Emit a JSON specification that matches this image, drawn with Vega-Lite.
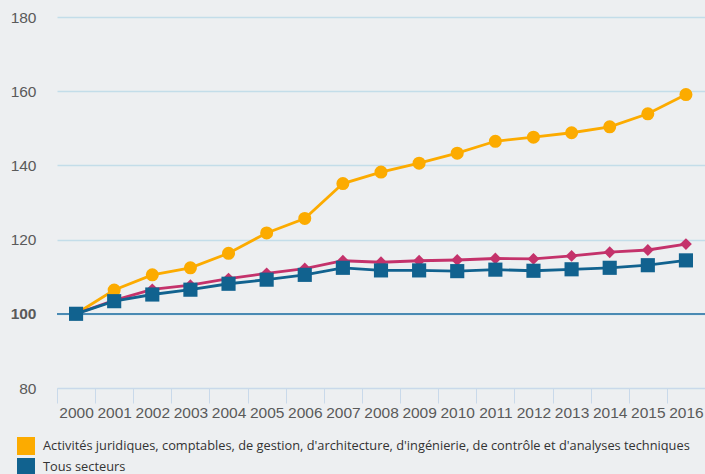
{
  "$schema": "https://vega.github.io/schema/vega-lite/v6.json",
  "width": 648,
  "height": 371,
  "autosize": {"type": "none"},
  "padding": {"left": 57, "top": 17, "right": 0, "bottom": 86},
  "background": "#edeff1",
  "config": {"view": {"stroke": null}},
  "data": {
    "values": [
      {"year": "2000", "serie": "Activités juridiques, comptables, de gestion, d'architecture, d'ingénierie, de contrôle et d'analyses techniques", "v": 100},
      {"year": "2001", "serie": "Activités juridiques, comptables, de gestion, d'architecture, d'ingénierie, de contrôle et d'analyses techniques", "v": 106.4},
      {"year": "2002", "serie": "Activités juridiques, comptables, de gestion, d'architecture, d'ingénierie, de contrôle et d'analyses techniques", "v": 110.5},
      {"year": "2003", "serie": "Activités juridiques, comptables, de gestion, d'architecture, d'ingénierie, de contrôle et d'analyses techniques", "v": 112.4},
      {"year": "2004", "serie": "Activités juridiques, comptables, de gestion, d'architecture, d'ingénierie, de contrôle et d'analyses techniques", "v": 116.3},
      {"year": "2005", "serie": "Activités juridiques, comptables, de gestion, d'architecture, d'ingénierie, de contrôle et d'analyses techniques", "v": 121.8},
      {"year": "2006", "serie": "Activités juridiques, comptables, de gestion, d'architecture, d'ingénierie, de contrôle et d'analyses techniques", "v": 125.7},
      {"year": "2007", "serie": "Activités juridiques, comptables, de gestion, d'architecture, d'ingénierie, de contrôle et d'analyses techniques", "v": 135.1},
      {"year": "2008", "serie": "Activités juridiques, comptables, de gestion, d'architecture, d'ingénierie, de contrôle et d'analyses techniques", "v": 138.2},
      {"year": "2009", "serie": "Activités juridiques, comptables, de gestion, d'architecture, d'ingénierie, de contrôle et d'analyses techniques", "v": 140.6},
      {"year": "2010", "serie": "Activités juridiques, comptables, de gestion, d'architecture, d'ingénierie, de contrôle et d'analyses techniques", "v": 143.3},
      {"year": "2011", "serie": "Activités juridiques, comptables, de gestion, d'architecture, d'ingénierie, de contrôle et d'analyses techniques", "v": 146.5},
      {"year": "2012", "serie": "Activités juridiques, comptables, de gestion, d'architecture, d'ingénierie, de contrôle et d'analyses techniques", "v": 147.6},
      {"year": "2013", "serie": "Activités juridiques, comptables, de gestion, d'architecture, d'ingénierie, de contrôle et d'analyses techniques", "v": 148.8},
      {"year": "2014", "serie": "Activités juridiques, comptables, de gestion, d'architecture, d'ingénierie, de contrôle et d'analyses techniques", "v": 150.4},
      {"year": "2015", "serie": "Activités juridiques, comptables, de gestion, d'architecture, d'ingénierie, de contrôle et d'analyses techniques", "v": 153.9},
      {"year": "2016", "serie": "Activités juridiques, comptables, de gestion, d'architecture, d'ingénierie, de contrôle et d'analyses techniques", "v": 159.1},
      {"year": "2000", "serie": "Services marchands", "v": 100},
      {"year": "2001", "serie": "Services marchands", "v": 103.6},
      {"year": "2002", "serie": "Services marchands", "v": 106.6},
      {"year": "2003", "serie": "Services marchands", "v": 107.7},
      {"year": "2004", "serie": "Services marchands", "v": 109.5},
      {"year": "2005", "serie": "Services marchands", "v": 110.9},
      {"year": "2006", "serie": "Services marchands", "v": 112.2},
      {"year": "2007", "serie": "Services marchands", "v": 114.3},
      {"year": "2008", "serie": "Services marchands", "v": 113.9},
      {"year": "2009", "serie": "Services marchands", "v": 114.3},
      {"year": "2010", "serie": "Services marchands", "v": 114.5},
      {"year": "2011", "serie": "Services marchands", "v": 114.9},
      {"year": "2012", "serie": "Services marchands", "v": 114.8},
      {"year": "2013", "serie": "Services marchands", "v": 115.6},
      {"year": "2014", "serie": "Services marchands", "v": 116.6},
      {"year": "2015", "serie": "Services marchands", "v": 117.2},
      {"year": "2016", "serie": "Services marchands", "v": 118.8},
      {"year": "2000", "serie": "Tous secteurs", "v": 100},
      {"year": "2001", "serie": "Tous secteurs", "v": 103.4},
      {"year": "2002", "serie": "Tous secteurs", "v": 105.2},
      {"year": "2003", "serie": "Tous secteurs", "v": 106.5},
      {"year": "2004", "serie": "Tous secteurs", "v": 108.1},
      {"year": "2005", "serie": "Tous secteurs", "v": 109.2},
      {"year": "2006", "serie": "Tous secteurs", "v": 110.5},
      {"year": "2007", "serie": "Tous secteurs", "v": 112.4},
      {"year": "2008", "serie": "Tous secteurs", "v": 111.7},
      {"year": "2009", "serie": "Tous secteurs", "v": 111.7},
      {"year": "2010", "serie": "Tous secteurs", "v": 111.5},
      {"year": "2011", "serie": "Tous secteurs", "v": 111.9},
      {"year": "2012", "serie": "Tous secteurs", "v": 111.6},
      {"year": "2013", "serie": "Tous secteurs", "v": 112.0},
      {"year": "2014", "serie": "Tous secteurs", "v": 112.4},
      {"year": "2015", "serie": "Tous secteurs", "v": 113.1},
      {"year": "2016", "serie": "Tous secteurs", "v": 114.4}
    ]
  },
  "encoding": {
    "x": {
      "field": "year",
      "type": "ordinal",
      "bandPosition": 0.5,
      "scale": {"type": "band", "paddingInner": 0, "paddingOuter": 0},
      "axis": {
        "title": null,
        "tickBand": "extent",
        "labelAngle": 0,
        "labelFont": "Liberation Sans",
        "labelFontSize": 15.5,
        "labelColor": "#5a5a5a",
        "labelPadding": 2,
        "tickSize": 15,
        "tickColor": "#c9d9ea",
        "domainColor": "#c9d9ea",
        "grid": false
      }
    },
    "y": {
      "field": "v",
      "type": "quantitative",
      "scale": {"domain": [80, 180], "nice": false, "zero": false},
      "axis": {
        "title": null,
        "values": [80, 100, 120, 140, 160, 180],
        "ticks": false,
        "domain": false,
        "labelFont": "Liberation Sans",
        "labelFontSize": 15.5,
        "labelColor": "#5a5a5a",
        "labelFontWeight": {"expr": "datum.value == 100 ? 'bold' : 'normal'"},
        "labelPadding": 21,
        "gridColor": "#c3dde9",
        "gridWidth": 1.5
      }
    },
    "color": {
      "field": "serie",
      "type": "nominal",
      "scale": {
        "domain": ["Activités juridiques, comptables, de gestion, d'architecture, d'ingénierie, de contrôle et d'analyses techniques", "Tous secteurs", "Services marchands"],
        "range": ["#fcab00", "#11628f", "#c4326b"]
      },
      "legend": {
        "title": null,
        "orient": "none",
        "legendX": -40,
        "legendY": 420,
        "direction": "vertical",
        "values": ["Activités juridiques, comptables, de gestion, d'architecture, d'ingénierie, de contrôle et d'analyses techniques", "Tous secteurs"],
        "symbolType": "square",
        "symbolSize": 324,
        "symbolStrokeWidth": 0,
        "symbolOpacity": 1,
        "labelFont": "Open Sans",
        "labelFontSize": 12.8,
        "labelColor": "#333333",
        "labelLimit": 800,
        "labelOffset": 8,
        "rowPadding": 3,
        "encode": {
          "symbols": {
            "update": {
              "shape": {"value": "square"},
              "size": {"value": 324},
              "fill": {"scale": "color", "field": "value"},
              "strokeWidth": {"value": 0},
              "opacity": {"value": 1}
            }
          }
        }
      }
    }
  },
  "layer": [
    {
      "mark": {"type": "rule", "color": "#4a8ab3", "strokeWidth": 1.5},
      "encoding": {"y": {"datum": 100}, "x": null, "color": null}
    },
    {
      "mark": {"type": "line", "strokeWidth": 2.8},
      "encoding": {}
    },
    {
      "transform": [{"filter": "datum.serie != 'Tous secteurs' && datum.serie != 'Services marchands'"}],
      "mark": {"type": "point", "filled": true, "opacity": 1, "shape": "circle", "size": 170},
      "encoding": {}
    },
    {
      "transform": [{"filter": "datum.serie == 'Services marchands'"}],
      "mark": {"type": "point", "filled": true, "opacity": 1, "shape": "diamond", "size": 140},
      "encoding": {}
    },
    {
      "transform": [{"filter": "datum.serie == 'Tous secteurs'"}],
      "mark": {"type": "point", "filled": true, "opacity": 1, "shape": "square", "size": 200},
      "encoding": {}
    }
  ]
}
